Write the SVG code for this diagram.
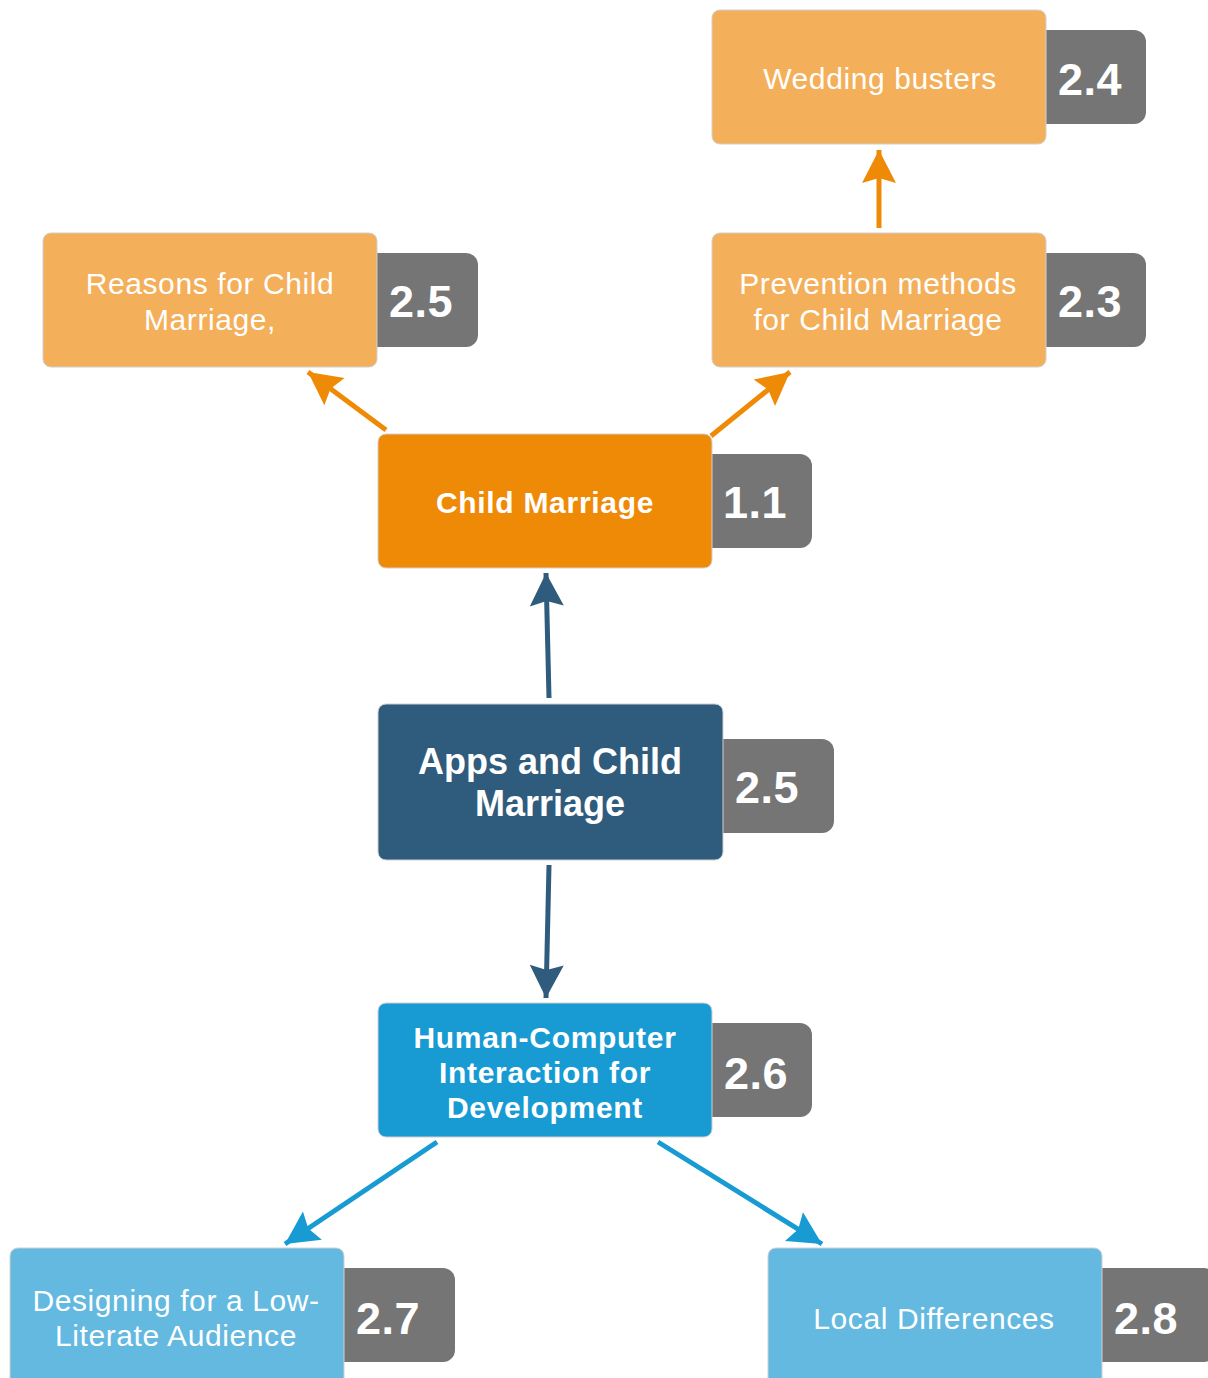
<svg xmlns="http://www.w3.org/2000/svg" width="1208" height="1378" viewBox="0 0 1208 1378">
  <style>
    .box { stroke: #d0d0d0; stroke-width: 1; }
    .lo { fill: #F4AF5A; }
    .or { fill: #EF8A07; }
    .db { fill: #2F5B7C; }
    .bl { fill: #189AD3; }
    .lb { fill: #64B9E0; }
    .badge { fill: #757575; }
    .t { font-family: "Liberation Sans", Arial, sans-serif; fill: #ffffff; text-anchor: middle; }
    .reg { font-size: 30px; letter-spacing: 0.6px; }
    .bold { font-weight: bold; font-size: 30px; letter-spacing: 0.7px; }
    .big { font-weight: bold; font-size: 36px; }
    .num { font-weight: bold; font-size: 45px; letter-spacing: 0.5px; }
    .conn { stroke-width: 5; fill: none; }
  </style>
  <defs>
    <marker id="ahOr" markerUnits="userSpaceOnUse" markerWidth="40" markerHeight="40" viewBox="0 -20 36 40" refX="33" refY="0" orient="auto">
      <path d="M0,-17 L33,0 L0,17 L5,0 z" fill="#EF8A07"/>
    </marker>
    <marker id="ahDb" markerUnits="userSpaceOnUse" markerWidth="40" markerHeight="40" viewBox="0 -20 36 40" refX="33" refY="0" orient="auto">
      <path d="M0,-17 L33,0 L0,17 L5,0 z" fill="#2F5B7C"/>
    </marker>
    <marker id="ahBl" markerUnits="userSpaceOnUse" markerWidth="40" markerHeight="40" viewBox="0 -20 36 40" refX="33" refY="0" orient="auto">
      <path d="M0,-17 L33,0 L0,17 L5,0 z" fill="#189AD3"/>
    </marker>
  </defs>

  <rect width="1208" height="1378" fill="#ffffff"/>

  <!-- connectors -->
  <g id="connectors">
    <line class="conn" x1="879" y1="228" x2="879" y2="150" stroke="#EF8A07" marker-end="url(#ahOr)"/>
    <line class="conn" x1="386" y1="430" x2="308" y2="372" stroke="#EF8A07" marker-end="url(#ahOr)"/>
    <line class="conn" x1="711" y1="436" x2="790" y2="372" stroke="#EF8A07" marker-end="url(#ahOr)"/>
    <line class="conn" x1="549" y1="698" x2="546" y2="573" stroke="#2F5B7C" marker-end="url(#ahDb)"/>
    <line class="conn" x1="549" y1="865" x2="546" y2="998" stroke="#2F5B7C" marker-end="url(#ahDb)"/>
    <line class="conn" x1="437" y1="1142" x2="285" y2="1244" stroke="#189AD3" marker-end="url(#ahBl)"/>
    <line class="conn" x1="658" y1="1142" x2="822" y2="1244" stroke="#189AD3" marker-end="url(#ahBl)"/>
  </g>

  <!-- 2.4 Wedding busters -->
  <g id="wedding-busters">
    <rect class="badge" x="1030" y="30" width="116" height="94" rx="12"/>
    <rect class="box lo" x="712" y="10" width="334" height="134" rx="8"/>
    <text class="t reg" x="880" y="89">Wedding busters</text>
    <text class="t num" x="1090" y="95">2.4</text>
  </g>

  <!-- 2.5 Reasons -->
  <g id="reasons">
    <rect class="badge" x="360" y="253" width="118" height="94" rx="12"/>
    <rect class="box lo" x="43" y="233" width="334" height="134" rx="8"/>
    <text class="t reg" x="210" y="294">Reasons for Child</text>
    <text class="t reg" x="210" y="330">Marriage,</text>
    <text class="t num" x="421" y="317">2.5</text>
  </g>

  <!-- 2.3 Prevention -->
  <g id="prevention">
    <rect class="badge" x="1030" y="253" width="116" height="94" rx="12"/>
    <rect class="box lo" x="712" y="233" width="334" height="134" rx="8"/>
    <text class="t reg" x="878" y="294">Prevention methods</text>
    <text class="t reg" x="878" y="330">for Child Marriage</text>
    <text class="t num" x="1090" y="317">2.3</text>
  </g>

  <!-- 1.1 Child Marriage -->
  <g id="child-marriage">
    <rect class="badge" x="696" y="454" width="116" height="94" rx="12"/>
    <rect class="box or" x="378" y="434" width="334" height="134" rx="8"/>
    <text class="t bold" x="545" y="513">Child Marriage</text>
    <text class="t num" x="755" y="518">1.1</text>
  </g>

  <!-- 2.5 Apps and Child Marriage -->
  <g id="apps">
    <rect class="badge" x="706" y="739" width="128" height="94" rx="12"/>
    <rect class="box db" x="378" y="704" width="345" height="156" rx="8"/>
    <text class="t big" x="550" y="774">Apps and Child</text>
    <text class="t big" x="550" y="816">Marriage</text>
    <text class="t num" x="767" y="803">2.5</text>
  </g>

  <!-- 2.6 HCI4D -->
  <g id="hci4d">
    <rect class="badge" x="696" y="1023" width="116" height="94" rx="12"/>
    <rect class="box bl" x="378" y="1003" width="334" height="134" rx="8"/>
    <text class="t bold" x="545" y="1048">Human-Computer</text>
    <text class="t bold" x="545" y="1083">Interaction for</text>
    <text class="t bold" x="545" y="1118">Development</text>
    <text class="t num" x="756" y="1089">2.6</text>
  </g>

  <!-- 2.7 Low-literate design -->
  <g id="low-literate">
    <rect class="badge" x="328" y="1268" width="127" height="94" rx="12"/>
    <rect class="box lb" x="10" y="1248" width="334" height="140" rx="8"/>
    <text class="t reg" x="176" y="1311">Designing for a Low-</text>
    <text class="t reg" x="176" y="1346">Literate Audience</text>
    <text class="t num" x="388" y="1334">2.7</text>
  </g>

  <!-- 2.8 Local differences -->
  <g id="local-differences">
    <rect class="badge" x="1086" y="1268" width="130" height="94" rx="12"/>
    <rect class="box lb" x="768" y="1248" width="334" height="140" rx="8"/>
    <text class="t reg" x="934" y="1329">Local Differences</text>
    <text class="t num" x="1146" y="1334">2.8</text>
  </g>
</svg>
